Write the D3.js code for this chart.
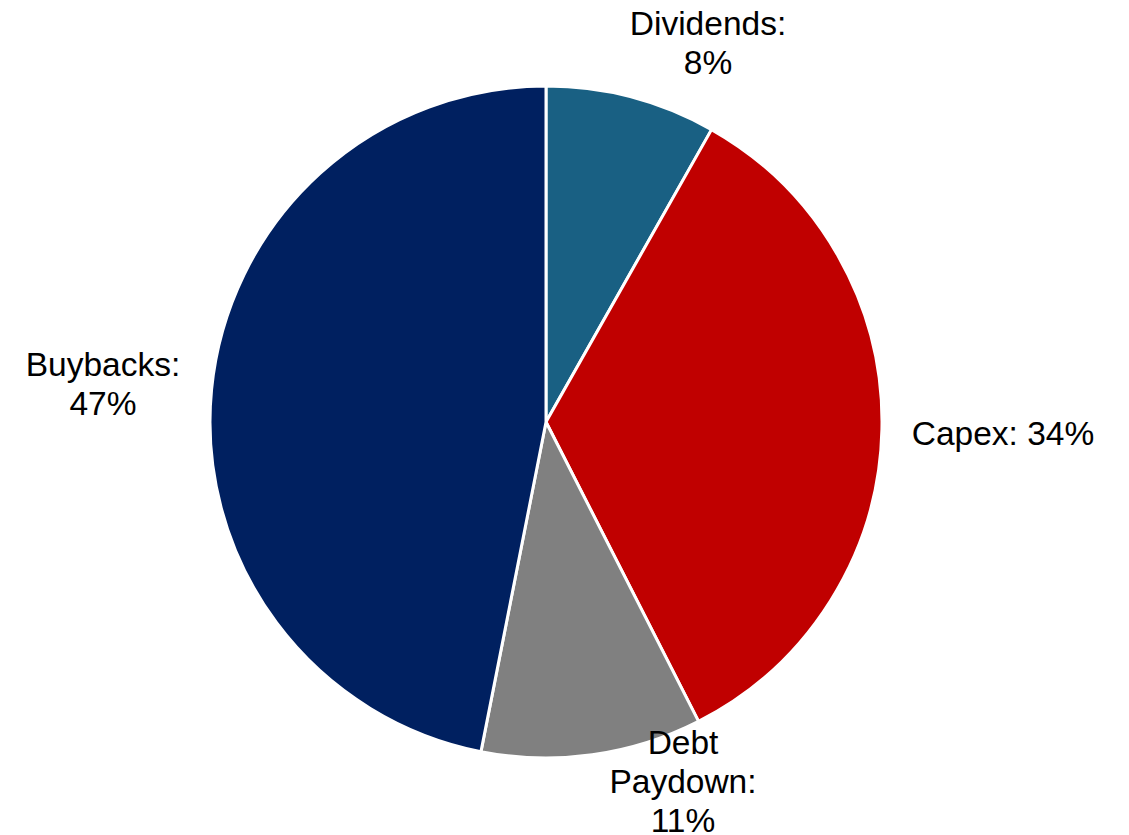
<!DOCTYPE html>
<html lang="en">
	<head>
		<meta charset="utf-8">
		<title>Uses of cash</title>
		<script type="text/javascript" src="https://cdn.jsdelivr.net/npm/d3@7"></script>
		<style type="text/css">
			body { margin: 0; background: white; }
			text { font-family: "Liberation Sans", Arial, sans-serif; fill: #000; }
		</style>
	</head>
	<body>
		<script type="text/javascript">
			// data
			var categories = ["Dividends", "Capex", "Debt Paydown", "Buybacks"];
			var shares = [8.2, 34.3, 10.6, 46.9];
			var labelLines = [
				["Dividends:", "8%"],
				["Capex: 34%"],
				["Debt", "Paydown:", "11%"],
				["Buybacks:", "47%"]
			];
			var colors = ["#196083", "#c00000", "#808080", "#002060"];

			var w = 1129, h = 835;
			var cx = 546, cy = 422, r = 336;
			var fontSize = 33.5, lineH = 39;

			// offset of each label block's centre from the pie centre
			var labelOffset = [
				[162, -379],
				[457, 11.5],
				[137, 359.5],
				[-443, -38.5]
			];

			var svg = d3.select("body")
						.append("svg")
						.attr("width", w)
						.attr("height", h);

			var pie = d3.pie().sort(null).value(function(d) { return d; });
			var arc = d3.arc().innerRadius(0).outerRadius(r);
			var arcs = pie(shares);

			var g = svg.append("g").attr("transform", "translate(" + cx + "," + cy + ")");

			g.selectAll("path")
				.data(arcs)
				.enter()
				.append("path")
				.attr("d", arc)
				.attr("fill", function(d, i) { return colors[i]; })
				.attr("stroke", "white")
				.attr("stroke-width", 3)
				.attr("stroke-linejoin", "round");

			var labels = g.selectAll("text.lbl")
				.data(arcs)
				.enter()
				.append("text")
				.attr("class", "lbl")
				.attr("text-anchor", "middle")
				.attr("font-size", fontSize + "px")
				.attr("transform", function(d, i) {
					return "translate(" + labelOffset[i][0] + "," + labelOffset[i][1] + ")";
				});

			labels.each(function(d, i) {
				var lines = labelLines[i];
				var n = lines.length;
				d3.select(this).selectAll("tspan")
					.data(lines)
					.enter()
					.append("tspan")
					.attr("x", 0)
					.attr("y", function(t, j) { return (j - (n - 1) / 2) * lineH + fontSize * 0.35; })
					.text(function(t) { return t; });
			});
		</script>
	</body>
</html>
